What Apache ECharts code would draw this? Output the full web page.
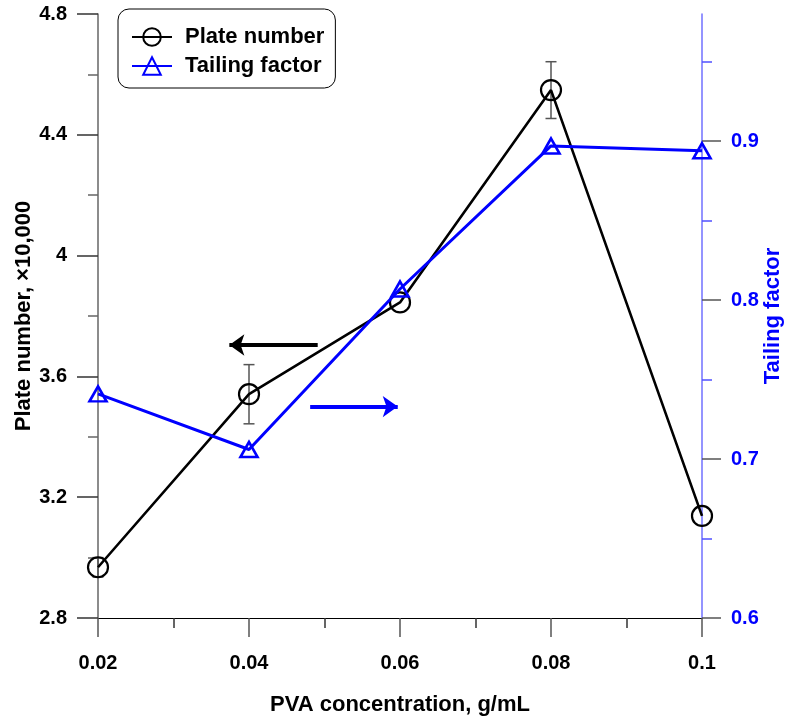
<!DOCTYPE html>
<html><head><meta charset="utf-8">
<script src="https://cdn.jsdelivr.net/npm/echarts@6/dist/echarts.min.js"></script>
<style>html,body{margin:0;padding:0;background:#fff}#c{width:788px;height:724px}</style>
</head><body><div id="c"></div>
<script>
// ---- data ----
const concentrations = [0.02, 0.04, 0.06, 0.08, 0.1];
const plateNumber = [2.968, 3.541, 3.845, 4.548, 3.138];
const plateError = [0.032, 0.098, 0, 0.094, 0];
const tailingFactor = [0.741, 0.706, 0.807, 0.897, 0.894];
const xTickValues = [0.02, 0.04, 0.06, 0.08, 0.1];
const leftTickValues = [2.8, 3.2, 3.6, 4.0, 4.4, 4.8];
const rightMajorTicks = [0.6, 0.7, 0.8, 0.9];
const rightMinorTicks = [0.65, 0.75, 0.85, 0.95];
const arrowPlate = [[0.0491, 3.704], [0.0374, 3.704]];
const arrowTailing = [[0.0481, 0.733], [0.0597, 0.733]];
const seriesNames = ['Plate number', 'Tailing factor'];
const axisNames = ['PVA concentration, g/mL', 'Plate number, \u00d710,000', 'Tailing factor'];

const FONT = "'Liberation Sans', Arial, Helvetica, sans-serif";
const chart = echarts.init(document.getElementById('c'), null, {renderer: 'canvas'});

const errData = concentrations.map((c, i) => [c, plateNumber[i] - plateError[i], plateNumber[i] + plateError[i]]);

const option = {
  backgroundColor: '#fff',
  animation: false,
  grid: {left: 98, right: 86, top: 14, bottom: 106, containLabel: false, outerBoundsMode: 'none'},
  legend: {
    data: seriesNames,
    orient: 'vertical',
    left: 118, top: 9,
    backgroundColor: '#fff',
    borderColor: '#000', borderWidth: 1, borderRadius: 11,
    padding: [17, 11, 11, 13],
    itemWidth: 40, itemHeight: 22, itemGap: 7,
    textStyle: {fontFamily: FONT, fontWeight: 'bold', fontSize: 22, color: '#000', padding: [0, 0, 0, 8]}
  },
  xAxis: {
    type: 'value', min: 0.02, max: 0.1, interval: 0.02,
    name: axisNames[0], nameLocation: 'middle', nameGap: 76,
    nameTextStyle: {fontFamily: FONT, fontWeight: 'bold', fontSize: 22, color: '#000'},
    axisLine: {show: true, onZero: false, lineStyle: {color: '#000', width: 1.2}},
    axisTick: {show: true, inside: false, length: 19, customValues: xTickValues, lineStyle: {color: '#555', width: 1.5}},
    minorTick: {show: true, splitNumber: 2, length: 10, lineStyle: {color: '#333', width: 1.5}},
    axisLabel: {fontFamily: FONT, fontWeight: 'bold', fontSize: 20, color: '#000', margin: 35, customValues: xTickValues},
    splitLine: {show: false}
  },
  yAxis: [
    {
      type: 'value', position: 'left', min: 2.8, max: 4.8, interval: 0.4,
      name: axisNames[1], nameLocation: 'middle', nameGap: 63, nameRotate: 90, nameMoveOverlap: false,
      nameTextStyle: {fontFamily: FONT, fontWeight: 'bold', fontSize: 22, color: '#000'},
      axisLine: {show: true, onZero: false, lineStyle: {color: '#666', width: 1.5}},
      axisTick: {show: true, inside: false, length: 21, lineStyle: {color: '#333', width: 1.5}},
      minorTick: {show: true, splitNumber: 2, length: 10, lineStyle: {color: '#666', width: 1.5}},
      axisLabel: {fontFamily: FONT, fontWeight: 'bold', fontSize: 20, color: '#000', margin: 31,
        formatter: v => String(+v.toFixed(1))},
      splitLine: {show: false}
    },
    {
      type: 'value', position: 'right', min: 0.6, max: 0.98, interval: 0.1,
      name: axisNames[2], nameLocation: 'middle', nameGap: 60, nameRotate: 90, nameMoveOverlap: false,
      nameTextStyle: {fontFamily: FONT, fontWeight: 'bold', fontSize: 22, color: '#0000ff'},
      axisLine: {show: true, onZero: false, lineStyle: {color: '#7070ff', width: 1.5}},
      axisTick: {show: true, inside: false, length: 19, customValues: rightMajorTicks, lineStyle: {color: '#555', width: 1.5}},
      axisLabel: {fontFamily: FONT, fontWeight: 'bold', fontSize: 20, color: '#0000ff', margin: 29,
        customValues: rightMajorTicks,
        formatter: v => (rightMajorTicks.some(t => Math.abs(t - v) < 1e-6) ? String(+v.toFixed(1)) : '')},
      splitLine: {show: false}
    },
    {
      type: 'value', position: 'right', min: 0.6, max: 0.98, interval: 0.1,
      axisLine: {show: false},
      axisTick: {show: true, inside: false, length: 10, customValues: rightMinorTicks, lineStyle: {color: '#5050ff', width: 1.5}},
      axisLabel: {show: false},
      splitLine: {show: false}
    }
  ],
  series: [
    {
      name: 'Plate number err', type: 'custom', xAxisIndex: 0, yAxisIndex: 0, z: 3, silent: true,
      data: errData,
      encode: {x: 0, y: [1, 2]},
      renderItem: function (params, api) {
        const x = api.value(0), lo = api.value(1), hi = api.value(2);
        if (hi - lo < 1e-9) return null;
        const pt = api.coord([x, hi]), pb = api.coord([x, lo]);
        const w = 5.5;
        const st = {stroke: '#555', lineWidth: 1.5};
        return {type: 'group', children: [
          {type: 'line', shape: {x1: pt[0], y1: pt[1], x2: pb[0], y2: pb[1]}, style: st},
          {type: 'line', shape: {x1: pt[0] - w, y1: pt[1], x2: pt[0] + w, y2: pt[1]}, style: st},
          {type: 'line', shape: {x1: pb[0] - w, y1: pb[1], x2: pb[0] + w, y2: pb[1]}, style: st}
        ]};
      }
    },
    {
      name: seriesNames[0], type: 'line', xAxisIndex: 0, yAxisIndex: 0, z: 4,
      data: concentrations.map((c, i) => [c, plateNumber[i]]),
      symbol: 'circle', symbolSize: 20,
      lineStyle: {color: '#000', width: 2.6},
      itemStyle: {color: 'rgba(0,0,0,0)', borderColor: '#000', borderWidth: 2.2},
      markLine: {
        silent: true, symbol: ['none', 'arrow'], symbolSize: [16, 15],
        label: {show: false},
        lineStyle: {color: '#000', width: 4, type: 'solid'},
        data: [[{coord: arrowPlate[0]}, {coord: arrowPlate[1]}]]
      }
    },
    {
      name: seriesNames[1], type: 'line', xAxisIndex: 0, yAxisIndex: 1, z: 5,
      data: concentrations.map((c, i) => [c, tailingFactor[i]]),
      symbol: 'triangle', symbolSize: [17, 15],
      lineStyle: {color: '#0000ff', width: 3},
      itemStyle: {color: 'rgba(0,0,255,0)', borderColor: '#0000ff', borderWidth: 2.6},
      markLine: {
        silent: true, symbol: ['none', 'arrow'], symbolSize: [16, 15],
        label: {show: false},
        lineStyle: {color: '#0000ff', width: 4, type: 'solid'},
        data: [[{coord: arrowTailing[0]}, {coord: arrowTailing[1]}]]
      }
    }
  ]
};
chart.setOption(option);
</script>
</body></html>
